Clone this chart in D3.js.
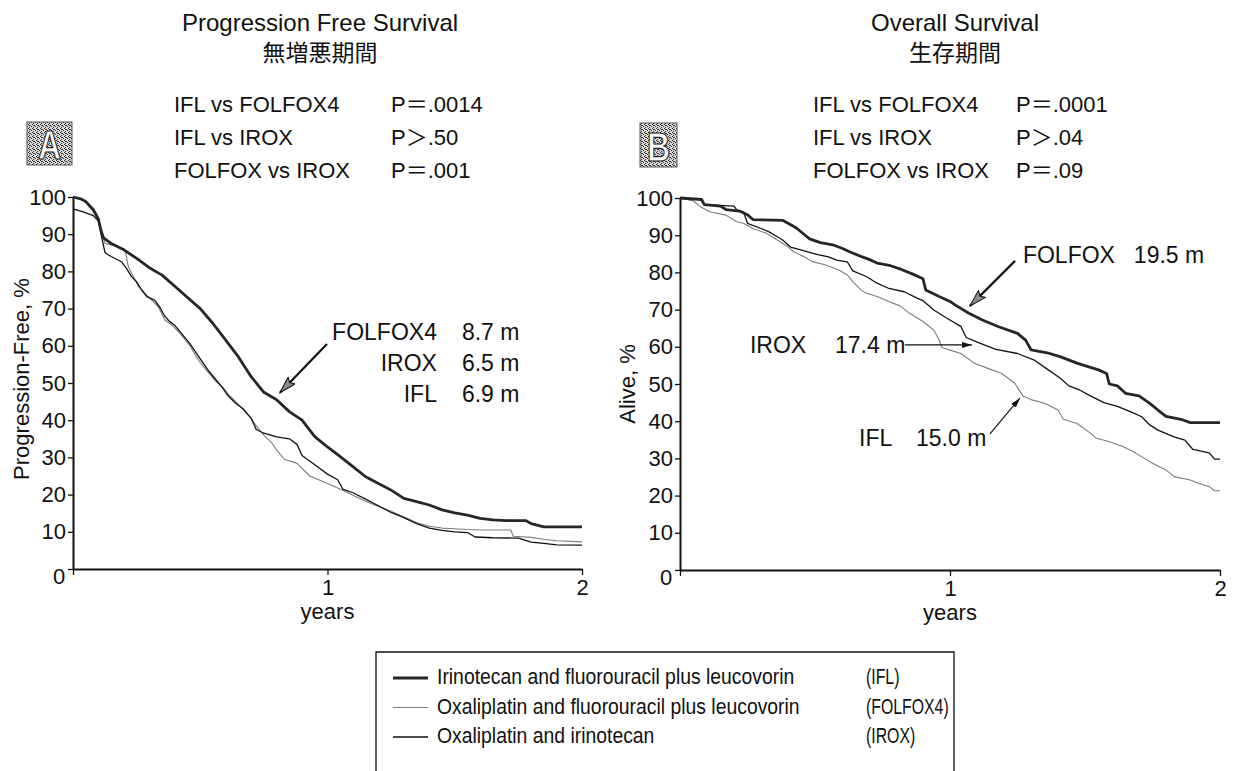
<!DOCTYPE html>
<meta charset="utf-8">
<head>
  <title>PFS and OS</title>
</head>

<style>
  body { margin: 0; background: #fff; }
  svg text { fill: #111; }
</style>

<body>

  <svg id="chart" width="1240" height="771"></svg>

  <script src="https://d3js.org/d3.v7.min.js"></script>
  <script>

  // Kaplan-Meier curves: [years, percent]
  var pfsFolfox = [[0,100],[0.03,99.5],[0.05,98.8],[0.08,96.5],[0.1,94],[0.11,91],[0.12,89],[0.15,87.5],[0.2,85.8],
    [0.25,83.5],[0.3,81],[0.35,79],[0.4,76],[0.45,73],[0.5,70],[0.55,66],[0.6,61.5],[0.65,57],[0.7,51.7],[0.75,47.5],
    [0.8,45.5],[0.85,42.3],[0.9,40],[0.95,35.6],[1.0,32.8],[1.05,30.2],[1.1,27.5],[1.15,24.8],[1.2,23],[1.25,21.2],
    [1.3,19],[1.35,18.1],[1.4,17.2],[1.45,15.9],[1.5,15.1],[1.55,14.5],[1.6,13.6],[1.65,13.2],[1.7,13],[1.78,13],
    [1.8,12.2],[1.85,11.3],[2.0,11.3]];
  var pfsIrox = [[0,96.8],[0.04,96],[0.08,95],[0.1,93.5],[0.11,90],[0.126,85],[0.15,84],[0.19,82.6],[0.21,80.8],
    [0.23,78.6],[0.25,77.2],[0.27,75],[0.29,73.2],[0.32,72.3],[0.34,70.5],[0.36,68],[0.38,66.5],[0.4,65.5],[0.43,63],
    [0.46,60.5],[0.48,58.5],[0.5,56.5],[0.53,53.5],[0.56,51],[0.59,48.5],[0.61,46.5],[0.64,44.5],[0.67,43],[0.7,40.5],
    [0.72,37.5],[0.75,36.5],[0.8,35.5],[0.85,35],[0.88,33.5],[0.9,30.5],[0.95,28],[1.0,25.5],[1.04,24],[1.06,21.5],
    [1.1,20.5],[1.15,18.8],[1.2,17],[1.25,15.2],[1.3,13.8],[1.35,12.2],[1.4,11],[1.45,10.4],[1.5,10],[1.55,9.8],
    [1.58,8.6],[1.65,8.4],[1.75,8.3],[1.8,7.2],[1.85,6.9],[1.9,6.5],[2.0,6.4]];
  var pfsIfl = [[0,100],[0.04,99.3],[0.08,97],[0.1,94.5],[0.11,91],[0.126,87.5],[0.16,87],[0.19,86.2],[0.205,85.8],
    [0.217,81.3],[0.237,78.6],[0.257,75.9],[0.283,74.1],[0.309,72.3],[0.335,70.5],[0.36,67],[0.38,66],[0.4,64.8],
    [0.43,62.5],[0.46,60],[0.48,57.5],[0.5,55.5],[0.53,53],[0.56,50.5],[0.59,48.8],[0.61,47],[0.64,45],[0.67,42.7],
    [0.7,40.5],[0.72,38.5],[0.75,36],[0.78,34],[0.8,32],[0.83,29.5],[0.88,28.4],[0.93,25],[1.0,23],[1.06,21.2],
    [1.1,19.8],[1.15,18.2],[1.2,16.8],[1.25,15.5],[1.3,14],[1.35,12.5],[1.4,11.5],[1.45,11],[1.5,10.8],[1.55,10.6],
    [1.6,10.5],[1.72,10.5],[1.73,8.8],[1.8,8.5],[1.85,8],[1.9,7.6],[2.0,7.3]];

  var osFolfox = [[0,100],[0.08,99.6],[0.09,98.2],[0.15,97.8],[0.17,96.9],[0.22,96.5],[0.25,95.5],[0.27,94.2],
    [0.38,94],[0.4,93.2],[0.43,92],[0.46,90.2],[0.48,89],[0.52,88],[0.57,87.3],[0.6,86.5],[0.63,85.5],[0.67,84.3],
    [0.7,83.5],[0.73,82.5],[0.78,81.8],[0.82,80.8],[0.86,79.6],[0.9,78.3],[0.91,75.3],[0.96,73.5],[1.0,72.2],
    [1.02,71.2],[1.07,69],[1.12,67.2],[1.18,65.4],[1.25,63.6],[1.28,61.8],[1.3,59.2],[1.36,58.4],[1.41,57.3],
    [1.47,55.6],[1.55,53.8],[1.58,52.8],[1.59,50],[1.62,49.5],[1.65,47.5],[1.7,46.8],[1.74,44.8],[1.77,43],
    [1.8,41.3],[1.86,40.4],[1.89,39.6],[2.0,39.6]];
  var osIrox = [[0,100],[0.08,99.6],[0.09,98.2],[0.2,97.8],[0.21,96.8],[0.235,96.3],[0.25,93.2],[0.3,91.8],
    [0.33,90.9],[0.36,89.6],[0.38,88.7],[0.41,86.8],[0.47,85.6],[0.51,84.8],[0.55,84.2],[0.58,83.3],[0.62,82.8],
    [0.64,80.4],[0.69,78.9],[0.73,77.1],[0.77,75.8],[0.83,74.8],[0.88,73],[0.9,72.4],[0.94,69.9],[0.99,67.6],
    [1.04,65.5],[1.06,62.5],[1.11,61],[1.17,59.3],[1.25,58.2],[1.31,56.5],[1.36,54],[1.41,51.5],[1.44,49.5],
    [1.48,48.4],[1.52,46.8],[1.57,45],[1.62,44],[1.67,42.5],[1.71,41.2],[1.74,39],[1.77,37.6],[1.83,35.8],
    [1.87,34.9],[1.9,32.4],[1.96,31.5],[1.98,29.8],[2.0,29.8]];
  var osIfl = [[0,100],[0.05,99.2],[0.074,97.7],[0.11,96.3],[0.17,95.4],[0.21,93.6],[0.235,93.2],[0.27,91.8],
    [0.32,90.5],[0.36,88.7],[0.4,86.9],[0.42,85.6],[0.46,84.2],[0.49,82.9],[0.54,82],[0.59,80.6],[0.62,79.3],
    [0.64,77.5],[0.67,75.3],[0.69,74.4],[0.73,73.5],[0.78,72],[0.815,71],[0.85,69],[0.9,66.8],[0.94,64.5],
    [0.96,61.8],[0.97,59.8],[1.0,59.1],[1.04,58.2],[1.09,55.6],[1.14,54.2],[1.19,52.9],[1.24,50.2],[1.27,46.8],
    [1.3,45.8],[1.35,44.8],[1.4,43],[1.42,40.5],[1.47,39.4],[1.52,36.8],[1.54,35.5],[1.59,34.5],[1.64,33.2],
    [1.68,31.8],[1.72,30],[1.75,28.7],[1.8,26.9],[1.83,25.1],[1.89,24.2],[1.92,23.3],[1.96,22.4],[1.98,21.3],[2.0,21.3]];

  var yTicks = [0,10,20,30,40,50,60,70,80,90,100];
  var xTicks = [0,1,2];

  var pfsTitle = ["Progression Free Survival", "無増悪期間"];
  var osTitle = ["Overall Survival", "生存期間"];
  var pfsCompare = ["IFL vs FOLFOX4", "IFL vs IROX", "FOLFOX vs IROX"];
  var pfsP = ["P＝.0014", "P＞.50", "P＝.001"];
  var osCompare = ["IFL vs FOLFOX4", "IFL vs IROX", "FOLFOX vs IROX"];
  var osP = ["P＝.0001", "P＞.04", "P＝.09"];
  var pfsArms = ["FOLFOX4", "IROX", "IFL"];
  var pfsMedians = ["8.7 m", "6.5 m", "6.9 m"];
  var osArms = ["FOLFOX", "IROX", "IFL"];
  var osMedians = ["19.5 m", "17.4 m", "15.0 m"];
  var legendNames = ["Irinotecan and fluorouracil plus leucovorin",
                     "Oxaliplatin and fluorouracil plus leucovorin",
                     "Oxaliplatin and irinotecan"];
  var legendCodes = ["(IFL)", "(FOLFOX4)", "(IROX)"];

  var FONT = '"Liberation Sans", Arial, "Noto Sans CJK JP", sans-serif';
  var CJK = '"Noto Sans CJK JP", sans-serif';

  // line looks: heavy, plain black, thin grey
  var heavy = {w: 2.8, c: "#262626"};
  var plain = {w: 1.3, c: "#111"};
  var thin  = {w: 1.1, c: "#7c7c7c"};

  var svg = d3.select("#chart");
  var defs = svg.append("defs");

  // halftone fill for the panel letters
  var pat = defs.append("pattern").attr("id", "dots")
      .attr("width", 4).attr("height", 4).attr("patternUnits", "userSpaceOnUse");
  pat.append("rect").attr("width", 4).attr("height", 4).attr("fill", "#d8d8d8");
  [[0,0],[2,1],[1,3],[3,2],[1,1]].forEach(function(p) {
    pat.append("rect").attr("x", p[0]).attr("y", p[1]).attr("width", 1).attr("height", 1).attr("fill", "#333");
  });

  defs.append("marker").attr("id", "bighead")
      .attr("viewBox", "0 0 18 11").attr("refX", 17).attr("refY", 5.5)
      .attr("markerWidth", 18).attr("markerHeight", 11)
      .attr("markerUnits", "userSpaceOnUse").attr("orient", "auto")
    .append("path").attr("d", "M0,0.5L17,5.5L0,10.5L3,5.5Z")
      .attr("fill", "#8a8a8a").attr("stroke", "#111").attr("stroke-width", 1);
  defs.append("marker").attr("id", "smallhead")
      .attr("viewBox", "0 0 10 6").attr("refX", 10).attr("refY", 3)
      .attr("markerWidth", 10).attr("markerHeight", 6)
      .attr("markerUnits", "userSpaceOnUse").attr("orient", "auto")
    .append("path").attr("d", "M0,0L10,3L0,6Z").attr("fill", "#111");

  function txt(g, x, y, s, size, anchor, sx, family) {
    return g.append("text")
      .attr("transform", "translate(" + x + "," + y + ") scale(" + (sx || 1) + ",1)")
      .attr("font-size", size)
      .attr("font-family", family || FONT)
      .attr("text-anchor", anchor || "start")
      .text(s);
  }

  function panel(o) {
    var x = d3.scaleLinear().domain([0, 2]).range([o.x0, o.x1]);
    var y = d3.scaleLinear().domain([0, 100]).range([o.y0, o.y1]);
    var g = svg.append("g");

    // header
    txt(g, o.cx, 31, o.title[0], 24, "middle");
    txt(g, o.cx, 61, o.title[1], 23, "middle", 1, CJK);
    o.compare.forEach(function(s, i) {
      txt(g, o.px, 112 + i * 33, s, 22);
      txt(g, o.pp, 112 + i * 33, o.p[i], 22);
    });

    // panel letter
    g.append("rect").attr("x", o.box[0]).attr("y", o.box[1]).attr("width", o.box[2]).attr("height", o.box[3])
      .attr("fill", "url(#dots)").attr("stroke", "#555").attr("stroke-width", 1);
    txt(g, o.box[0] + o.box[2] / 2, o.box[1] + o.box[3] - 6, o.letter, 40, "middle", 0.8)
      .attr("font-weight", "bold").style("fill", "#fff").attr("stroke", "#222").attr("stroke-width", 1.2);

    // axes
    var ya = g.append("g").attr("transform", "translate(" + o.x0 + ",0)")
      .call(d3.axisLeft(y).tickValues(yTicks).tickSize(5).tickSizeOuter(0).tickPadding(2)
        .tickFormat(function(d) { return d ? d : ""; }));
    var xa = g.append("g").attr("transform", "translate(0," + o.y0 + ")")
      .call(d3.axisBottom(x).tickValues(xTicks).tickSize(6).tickSizeOuter(0).tickPadding(4)
        .tickFormat(function(d) { return d ? d : ""; }));
    [ya, xa].forEach(function(a) {
      a.select(".domain").attr("stroke", "#111").attr("stroke-width", 2);
      a.selectAll(".tick line").attr("stroke", "#111").attr("stroke-width", 1.3);
      a.selectAll("text").attr("font-size", 22).attr("font-family", FONT).attr("fill", "#111");
    });
    txt(g, x(0) - 14, y(0) + 15, "0", 22, "middle");
    txt(g, x(1), y(0) + 50, "years", 22, "middle");
    g.append("text")
      .attr("transform", "translate(" + o.ylx + "," + o.yly + ") rotate(-90)")
      .attr("font-size", 22).attr("font-family", FONT).attr("text-anchor", "middle")
      .text(o.ylabel);

    // curves
    var line = d3.line()
      .x(function(d) { return x(d[0]); })
      .y(function(d) { return y(d[1]); });
    o.series.forEach(function(s) {
      g.append("path").datum(s.data)
        .attr("d", line)
        .attr("fill", "none")
        .attr("stroke", s.st.c)
        .attr("stroke-width", s.st.w)
        .attr("stroke-linejoin", "round");
    });

    return {g: g, x: x, y: y};
  }

  // ---- panel A: progression free survival
  var A = panel({
    x0: 73, x1: 582, y0: 569, y1: 197, cx: 320,
    title: pfsTitle, compare: pfsCompare, p: pfsP, px: 174, pp: 391,
    box: [27, 122, 45, 43], letter: "A",
    ylabel: "Progression-Free, %", ylx: 29, yly: 379,
    series: [{data: pfsIfl, st: thin}, {data: pfsIrox, st: plain}, {data: pfsFolfox, st: heavy}]
  });
  pfsArms.forEach(function(s, i) {
    txt(A.g, A.x(1.43), A.y(61.6) + i * 31, s, 23, "end");
    txt(A.g, A.x(1.528), A.y(61.6) + i * 31, pfsMedians[i], 23, "start");
  });
  A.g.append("line")
    .attr("x1", A.x(0.998)).attr("y1", A.y(60.5)).attr("x2", A.x(0.813)).attr("y2", A.y(47.4))
    .attr("stroke", "#111").attr("stroke-width", 2.2).attr("marker-end", "url(#bighead)");

  // ---- panel B: overall survival
  var B = panel({
    x0: 680, x1: 1220, y0: 570, y1: 198, cx: 955,
    title: osTitle, compare: osCompare, p: osP, px: 813, pp: 1016,
    box: [640, 123, 37, 44], letter: "B",
    ylabel: "Alive, %", ylx: 635, yly: 384,
    series: [{data: osIfl, st: thin}, {data: osIrox, st: plain}, {data: osFolfox, st: heavy}]
  });
  txt(B.g, B.x(1.27), B.y(82.5), osArms[0], 23);
  txt(B.g, B.x(1.681), B.y(82.5), osMedians[0], 23);
  txt(B.g, B.x(0.259), B.y(58.3), osArms[1], 23);
  txt(B.g, B.x(0.574), B.y(58.3), osMedians[1], 23);
  txt(B.g, B.x(0.663), B.y(33.3), osArms[2], 23);
  txt(B.g, B.x(0.874), B.y(33.3), osMedians[2], 23);
  B.g.append("line")
    .attr("x1", B.x(1.241)).attr("y1", B.y(83.1)).attr("x2", B.x(1.074)).attr("y2", B.y(71))
    .attr("stroke", "#111").attr("stroke-width", 2.2).attr("marker-end", "url(#bighead)");
  B.g.append("line")
    .attr("x1", B.x(0.833)).attr("y1", B.y(60.5)).attr("x2", B.x(1.081)).attr("y2", B.y(60.5))
    .attr("stroke", "#111").attr("stroke-width", 1.2).attr("marker-end", "url(#smallhead)");
  B.g.append("line")
    .attr("x1", B.x(1.148)).attr("y1", B.y(36.6)).attr("x2", B.x(1.259)).attr("y2", B.y(46.2))
    .attr("stroke", "#111").attr("stroke-width", 1.2).attr("marker-end", "url(#smallhead)");

  // ---- legend
  var leg = svg.append("g");
  leg.append("path").attr("d", "M376,775V652H954V775")
    .attr("fill", "none").attr("stroke", "#111").attr("stroke-width", 1.3);
  var legStyles = [heavy, thin, plain];
  legendNames.forEach(function(s, i) {
    var by = 684 + i * 29.5;
    leg.append("line").attr("x1", 393).attr("x2", 428).attr("y1", by - 6).attr("y2", by - 6)
      .attr("stroke", legStyles[i].c).attr("stroke-width", legStyles[i].w);
    txt(leg, 437, by, s, 22, "start", 0.88);
    txt(leg, 866, by, legendCodes[i], 22, "start", 0.72);
  });

  </script>
</body>
</html>
